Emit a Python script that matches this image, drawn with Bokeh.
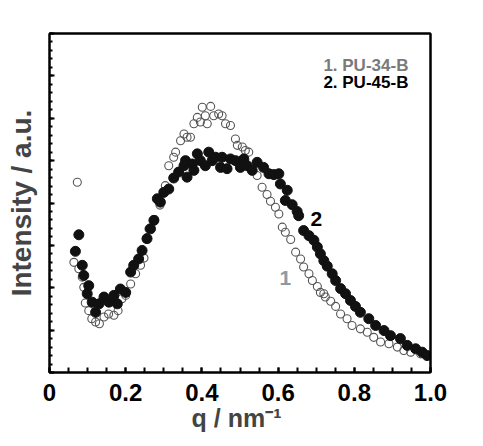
from bokeh.plotting import figure
from bokeh.models import (SingleIntervalTicker, CustomJSTickFormatter, Range1d, Label,
                          LinearAxis, FixedTicker)
from bokeh.embed import file_html
from bokeh.resources import INLINE

# Series 1: PU-34-B (open circles)
q1 = [0.064, 0.073, 0.077, 0.086, 0.090, 0.094, 0.103, 0.111, 0.121, 0.131,
      0.143, 0.155, 0.169, 0.180, 0.190, 0.200, 0.213, 0.226, 0.239, 0.248,
      0.254, 0.261, 0.276, 0.290, 0.304, 0.313, 0.326, 0.331, 0.344, 0.353,
      0.361, 0.370, 0.379, 0.388, 0.396, 0.401, 0.409, 0.414, 0.423, 0.431,
      0.444, 0.453, 0.462, 0.475, 0.488, 0.493, 0.506, 0.514, 0.523, 0.545,
      0.558, 0.571, 0.580, 0.593, 0.602, 0.611, 0.619, 0.633, 0.646, 0.659,
      0.667, 0.681, 0.690, 0.703, 0.711, 0.720, 0.724, 0.738, 0.751, 0.764,
      0.781, 0.794, 0.816, 0.834, 0.851, 0.869, 0.891, 0.913, 0.930, 0.948,
      0.974, 0.996]
i1 = [2.60, 4.49, 2.45, 2.25, 2.01, 1.64, 1.46, 1.27, 1.19, 1.15,
      1.31, 1.38, 1.35, 1.46, 1.74, 1.82, 2.09, 2.33, 2.53, 2.70,
      3.15, 3.39, 3.61, 3.95, 4.41, 4.88, 5.08, 5.20, 5.47, 5.63,
      5.55, 5.55, 5.87, 6.02, 5.91, 6.26, 6.06, 5.87, 6.28, 6.06,
      6.10, 6.06, 5.87, 5.83, 5.51, 5.36, 5.32, 5.24, 5.20, 4.65,
      4.37, 4.20, 4.04, 3.90, 3.74, 3.43, 3.31, 3.14, 2.84, 2.68,
      2.49, 2.33, 2.17, 2.03, 1.89, 1.86, 1.78, 1.68, 1.56, 1.38,
      1.27, 1.11, 1.03, 0.95, 0.83, 0.72, 0.68, 0.60, 0.52, 0.48,
      0.44, 0.40]

# Series 2: PU-45-B (filled circles)
q2 = [0.068, 0.077, 0.086, 0.090, 0.099, 0.103, 0.112, 0.121, 0.130, 0.143,
      0.156, 0.169, 0.178, 0.186, 0.200, 0.213, 0.221, 0.234, 0.243, 0.256,
      0.265, 0.274, 0.283, 0.291, 0.300, 0.313, 0.326, 0.339, 0.353, 0.357,
      0.361, 0.375, 0.379, 0.388, 0.396, 0.409, 0.418, 0.427, 0.436, 0.449,
      0.453, 0.466, 0.475, 0.488, 0.501, 0.510, 0.519, 0.532, 0.545, 0.562,
      0.576, 0.589, 0.602, 0.606, 0.619, 0.624, 0.637, 0.650, 0.654, 0.667,
      0.681, 0.694, 0.703, 0.711, 0.720, 0.729, 0.742, 0.751, 0.764, 0.777,
      0.790, 0.803, 0.816, 0.838, 0.856, 0.878, 0.895, 0.921, 0.939, 0.961,
      0.978, 0.991]
i2 = [2.86, 3.25, 2.53, 2.29, 1.86, 2.05, 1.66, 1.42, 1.62, 1.78,
      1.66, 1.82, 1.62, 1.97, 1.89, 2.37, 2.53, 2.68, 2.88, 3.16,
      3.39, 3.59, 4.10, 4.02, 4.25, 4.33, 4.59, 4.73, 4.88, 5.00,
      4.61, 4.92, 4.77, 5.16, 5.00, 4.88, 5.20, 5.00, 5.08, 4.84,
      5.08, 4.81, 5.04, 5.00, 4.84, 5.04, 4.88, 4.77, 4.96, 4.84,
      4.69, 4.67, 4.69, 4.45, 4.06, 4.30, 3.96, 3.80, 3.70, 3.35,
      3.23, 3.12, 2.96, 2.80, 2.64, 2.51, 2.33, 2.17, 1.98, 1.86,
      1.70, 1.56, 1.42, 1.27, 1.11, 0.99, 0.87, 0.80, 0.64, 0.56,
      0.48, 0.40]

legend_labels = ["1. PU-34-B", "2. PU-45-B"]
x_title = "q /  nm\u207b\u00b9"
y_title = "Intensity / a.u."

FONT = "Liberation Sans"

p = figure(frame_width=381, frame_height=339, output_backend="svg", toolbar_location=None,
           x_range=Range1d(0, 1.0), y_range=Range1d(0, 8),
           min_border_left=49, min_border_right=45, min_border_top=33, min_border_bottom=74)
p.background_fill_color = "white"
p.border_fill_color = "white"
p.grid.visible = False
p.outline_line_color = "black"
p.outline_line_width = 2

# x axis
p.xaxis.ticker = SingleIntervalTicker(interval=0.2, num_minor_ticks=4)
p.xaxis.formatter = CustomJSTickFormatter(code="return Math.abs(tick) < 1e-9 ? '0' : tick.toFixed(1);")
p.xaxis.major_tick_in = 5
p.xaxis.major_tick_out = 0
p.xaxis.minor_tick_in = 5
p.xaxis.minor_tick_out = 0
p.xaxis.axis_line_width = 2
p.xaxis.major_tick_line_width = 2
p.xaxis.minor_tick_line_width = 2
p.xaxis.major_label_text_font = FONT
p.xaxis.major_label_text_font_style = "bold"
p.xaxis.major_label_text_font_size = "24px"
p.xaxis.major_label_text_color = "black"
p.xaxis.major_label_standoff = 11
p.xaxis.axis_label = x_title
p.xaxis.axis_label_text_font = FONT
p.xaxis.axis_label_text_font_style = "bold"
p.xaxis.axis_label_text_font_size = "25px"
p.xaxis.axis_label_standoff = 0

# y axis (no tick labels)
p.yaxis.ticker = SingleIntervalTicker(interval=1, num_minor_ticks=5)
p.yaxis.formatter = CustomJSTickFormatter(code="return '';")
p.yaxis.major_label_standoff = 0
p.yaxis.major_tick_in = 5
p.yaxis.major_tick_out = 0
p.yaxis.minor_tick_in = 3
p.yaxis.minor_tick_out = 0
p.yaxis.axis_line_width = 2
p.yaxis.major_tick_line_width = 2
p.yaxis.minor_tick_line_width = 2
p.yaxis.axis_label = y_title
p.yaxis.axis_label_text_font = FONT
p.yaxis.axis_label_text_font_style = "bold"
p.yaxis.axis_label_text_font_size = "28px"
p.yaxis.axis_label_standoff = 13

# frame on top and right
for side in ("right", "above"):
    ax = LinearAxis(ticker=FixedTicker(ticks=[]), axis_line_width=2,
                    major_tick_in=0, major_tick_out=0, minor_tick_in=0, minor_tick_out=0,
                    major_label_standoff=0)
    p.add_layout(ax, side)

p.scatter(q1, i1, marker="circle", size=8, fill_color=None,
          line_color="#555555", line_width=1.1)
p.scatter(q2, i2, marker="circle", size=10, fill_color="#111111",
          line_color="#111111", line_width=1)

# legend texts
p.add_layout(Label(x=0.942, y=7.24, text=legend_labels[0], text_align="right",
                   text_baseline="alphabetic", text_font=FONT, text_font_style="bold",
                   text_font_size="17px", text_color="#7a7a7a"))
p.add_layout(Label(x=0.942, y=6.85, text=legend_labels[1], text_align="right",
                   text_baseline="alphabetic", text_font=FONT, text_font_style="bold",
                   text_font_size="17px", text_color="black"))
# curve labels
p.add_layout(Label(x=0.685, y=3.63, text="2", text_baseline="alphabetic",
                   text_font=FONT, text_font_style="bold", text_font_size="21px",
                   text_color="black"))
p.add_layout(Label(x=0.604, y=2.24, text="1", text_baseline="alphabetic",
                   text_font=FONT, text_font_style="bold", text_font_size="21px",
                   text_color="#8c9aa6"))

open("out.html", "w").write(file_html(p, INLINE))
